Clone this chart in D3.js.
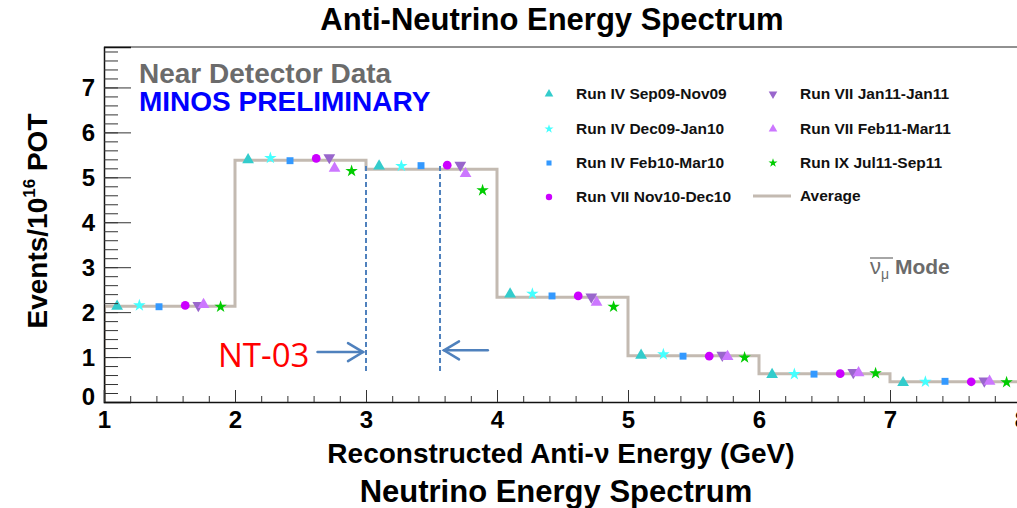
<!DOCTYPE html>
<html lang="en">
<head>
<meta charset="UTF-8">
<title>Anti-Neutrino Energy Spectrum</title>
<script src="https://d3js.org/d3.v7.min.js"></script>
<style>
  html, body { margin: 0; padding: 0; background: #fff; }
  text { font-family: "Liberation Sans", Arial, sans-serif; font-weight: bold; }
</style>
</head>
<body>
<div id="chart"></div>
<script>
// bin edges (GeV) and the average spectrum
const binLow = [1, 2, 3, 4, 5, 6, 7];
const average = [2.13, 5.38, 5.18, 2.33, 1.03, 0.63, 0.45];

// run periods, their position inside each bin (GeV from bin low edge) and values
const runs = ["Run IV Sep09-Nov09", "Run IV Dec09-Jan10", "Run IV Feb10-Mar10", "Run VII Nov10-Dec10",
              "Run VII Jan11-Jan11", "Run VII Feb11-Mar11", "Run IX Jul11-Sep11"];
const runOffset = [0.1, 0.27, 0.42, 0.62, 0.72, 0.76, 0.89];
const runValues = [
  [2.13, 5.39, 5.25, 2.40, 1.04, 0.61, 0.43],
  [2.15, 5.43, 5.25, 2.41, 1.06, 0.62, 0.45],
  [2.12, 5.37, 5.26, 2.36, 1.02, 0.62, 0.46],
  [2.15, 5.42, 5.27, 2.36, 1.02, 0.63, 0.45],
  [2.15, 5.44, 5.27, 2.34, 1.04, 0.66, 0.47],
  [2.17, 5.20, 5.08, 2.22, 1.01, 0.65, 0.46],
  [2.12, 5.14, 4.71, 2.12, 0.99, 0.64, 0.44]
];
const xTicks = [1, 2, 3, 4, 5, 6, 7, 8];
const yTicks = [0, 1, 2, 3, 4, 5, 6, 7];
// NT-03 window edges (GeV)
const window03 = [3.0, 3.565];

const width = 1017, height = 508;
const margin = {top: 47, left: 104, bottom: 106};

const x = d3.scaleLinear().domain([1, 8]).range([margin.left, 1021]);
const y = d3.scaleLinear().domain([0, 7.9]).range([height - margin.bottom, margin.top]);

const colors = ["#33cccc", "#44ffff", "#3399ff", "#cc00ff", "#9966cc", "#cc77ff", "#00cc00"];
const shapes = ["tri", "star", "square", "circle", "down", "tri", "star"];

const svg = d3.select("#chart").append("svg")
  .attr("width", width).attr("height", height);

// marker path for a shape
const marker = (s, size) => {
  if (s === "tri") return d3.symbol(d3.symbolTriangle, size)();
  if (s === "down") return d3.symbol(d3.symbolTriangle, size)();
  if (s === "star") return d3.symbol(d3.symbolStar, size * 0.8)();
  if (s === "square") return d3.symbol(d3.symbolSquare, size * 0.8)();
  return d3.symbol(d3.symbolCircle, size)();
};

// frame top line
svg.append("line")
  .attr("x1", x(1)).attr("x2", width).attr("y1", y(7.9)).attr("y2", y(7.9))
  .attr("stroke", "#222").attr("stroke-width", 1);

// average histogram (step line)
const stepPts = [];
binLow.forEach((b, i) => { stepPts.push([b, average[i]]); stepPts.push([b + 1, average[i]]); });
svg.append("path")
  .datum(stepPts)
  .attr("fill", "none")
  .attr("stroke", "#c3bab1")
  .attr("stroke-width", 3)
  .attr("d", d3.line().x(d => x(d[0])).y(d => y(d[1])));
svg.append("line")
  .attr("x1", x(1) + 1).attr("x2", x(1) + 1).attr("y1", y(0)).attr("y2", y(average[0]))
  .attr("stroke", "#c3bab1").attr("stroke-width", 2);

// run markers
runs.forEach((r, si) => {
  svg.append("g").selectAll("path")
    .data(runValues[si])
    .enter().append("path")
    .attr("d", marker(shapes[si], 60))
    .attr("fill", colors[si])
    .attr("transform", (d, i) => `translate(${x(binLow[i] + runOffset[si])},${y(d)})` +
      (shapes[si] === "down" ? " rotate(180)" : ""));
});

// dashed window lines
svg.append("g").selectAll("line")
  .data(window03).enter().append("line")
  .attr("x1", d => x(d)).attr("x2", d => x(d))
  .attr("y1", y(5.25)).attr("y2", y(0.68))
  .attr("stroke", "#4f81bd").attr("stroke-width", 2)
  .attr("stroke-dasharray", "5,3");

// arrows pointing to the window
const arrow = (x1, x2, yy) => {
  const dir = x2 > x1 ? 1 : -1;
  const g = svg.append("g").attr("stroke", "#4f81bd").attr("stroke-width", 2.5)
    .attr("fill", "none").attr("stroke-linecap", "round");
  g.append("line").attr("x1", x1).attr("x2", x2).attr("y1", yy).attr("y2", yy);
  g.append("path").attr("d", `M${x2 - dir * 15},${yy - 9}L${x2},${yy}L${x2 - dir * 15},${yy + 9}`);
};
arrow(x(2.63), x(window03[0]) - 3, y(1.11));
arrow(x(3.93), x(window03[1]) + 4, y(1.15));

svg.append("text")
  .attr("x", 218).attr("y", 367)
  .attr("fill", "#ff0000")
  .style("font-family", "'Open Sans', 'Noto Sans', sans-serif")
  .style("font-weight", "normal")
  .style("font-size", "33px")
  .text("NT-03");

// y axis
const yAxis = svg.append("g").attr("transform", `translate(${x(1)},0)`)
  .call(d3.axisLeft(y).tickValues(yTicks).tickSize(-27).tickPadding(9).tickFormat(d3.format("d")));
svg.append("g").attr("transform", `translate(${x(1)},0)`)
  .call(d3.axisLeft(y).tickValues(d3.range(0, 7.9, 0.2)).tickSize(-14).tickFormat(""))
  .call(g => g.select(".domain").remove());

// x axis
const xAxis = svg.append("g").attr("transform", `translate(0,${y(0)})`)
  .call(d3.axisBottom(x).tickValues(xTicks).tickSize(-12).tickPadding(7).tickFormat(d3.format("d")));
svg.append("g").attr("transform", `translate(0,${y(0)})`)
  .call(d3.axisBottom(x).tickValues(d3.range(1, 8, 0.2)).tickSize(-6).tickFormat(""))
  .call(g => g.select(".domain").remove());

svg.selectAll(".tick line").attr("stroke", "#333");
svg.selectAll(".domain").attr("stroke", "#111").attr("stroke-width", 1.5);
yAxis.selectAll("text").style("font-size", "24px").style("font-family", "'Liberation Sans', Arial").attr("fill", "#000").attr("dy", "0.35em");
xAxis.selectAll("text").style("font-size", "24px").style("font-family", "'Liberation Sans', Arial").attr("fill", "#000").attr("dy", "0.8em");
yAxis.select(".tick text").attr("dy", "0.1em");

// titles
svg.append("text").attr("x", 552).attr("y", 30).attr("text-anchor", "middle")
  .style("font-size", "31px").text("Anti-Neutrino Energy Spectrum");
svg.append("text").attr("x", 561).attr("y", 463).attr("text-anchor", "middle")
  .style("font-size", "28px").text("Reconstructed Anti-\u03bd Energy (GeV)");
svg.append("text").attr("x", 556).attr("y", 502).attr("text-anchor", "middle")
  .style("font-size", "31px").text("Neutrino Energy Spectrum");

const yt = svg.append("text").attr("transform", "translate(47,221) rotate(-90)")
  .attr("text-anchor", "middle").style("font-size", "28px");
yt.append("tspan").text("Events/10");
yt.append("tspan").attr("dy", -12).style("font-size", "17px").text("16");
yt.append("tspan").attr("dy", 12).text(" POT");

// labels inside the frame
svg.append("text").attr("x", 139).attr("y", 83).attr("fill", "#6b6b6b")
  .style("font-size", "28px").text("Near Detector Data");
svg.append("text").attr("x", 139).attr("y", 111).attr("fill", "#0000ff")
  .style("font-size", "28px").text("MINOS PRELIMINARY");

const mode = svg.append("text").attr("x", 870).attr("y", 274).attr("fill", "#6b6b6b").style("font-size", "21px");
mode.append("tspan").style("font-weight", "normal").style("font-size", "22px").text("\u03bd");
mode.append("tspan").attr("dy", 5).style("font-size", "14px").style("font-weight", "normal").text("\u03bc");
mode.append("tspan").attr("dy", -5).text(" Mode");
svg.append("line").attr("x1", 870).attr("x2", 893).attr("y1", 258).attr("y2", 258)
  .attr("stroke", "#6b6b6b").attr("stroke-width", 1.2);

// legend
const legCol = [549, 773], legRow = [94, 129, 163, 197];
runs.forEach((r, i) => {
  const col = i < 4 ? 0 : 1, row = i < 4 ? i : i - 4;
  svg.append("path")
    .attr("d", marker(shapes[i], 32))
    .attr("fill", colors[i])
    .attr("transform", `translate(${legCol[col]},${legRow[row]})` + (shapes[i] === "down" ? " rotate(180)" : ""));
  svg.append("text").attr("x", legCol[col] + 27).attr("y", legRow[row] + 5)
    .style("font-size", "15.5px").attr("fill", "#111").text(r);
});
svg.append("line").attr("x1", 753).attr("x2", 791).attr("y1", legRow[3] - 1).attr("y2", legRow[3] - 1)
  .attr("stroke", "#c3bab1").attr("stroke-width", 3);
svg.append("text").attr("x", 800).attr("y", legRow[3] + 4)
  .style("font-size", "15.5px").attr("fill", "#111").text("Average");
</script>
</body>
</html>
